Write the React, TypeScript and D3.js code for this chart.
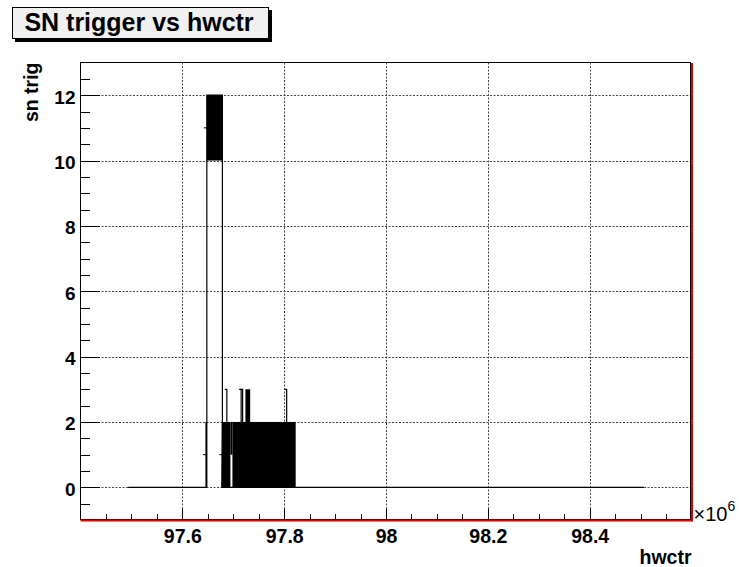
import React, { useEffect, useRef } from "react";
import * as d3 from "d3";

// hwctr in units of 10^6, sn trig counts
const traceHwctr = [97.4935, 97.6465, 97.6465, 97.6472, 97.6481, 97.6481, 97.6787, 97.6787, 97.6775, 97.8226, 97.8226, 98.5065];
const traceSnTrig = [0, 0, 2, 0, 0, 12, 12, 2, 0, 0, 0, 0];

// regions where the trace swings so fast it shows as solid black
const bandStart = [97.6481, 97.6775, 97.6944, 97.6984, 97.7239];
const bandEnd = [97.6787, 97.6944, 97.6984, 97.8226, 97.7332];
const bandLow = [10, 0, 1, 0, 2];
const bandHigh = [12, 2, 2, 2, 3];

// single excursions up to 3
const spikeHwctr = [97.6874, 97.7155, 97.7184, 97.8049];
const spikeBase = 2;
const spikeTop = 3;

// short stubs left of the tall bar
const stubHwctr = [97.6481, 97.6465, 97.6787];
const stubSnTrig = [11, 1, 1];

const xDomain = [97.4, 98.6];
const yDomain = [-1, 13];
const xTicks = [97.6, 97.8, 98, 98.2, 98.4];
const xTickLabels = ["97.6", "97.8", "98", "98.2", "98.4"];
const yTicks = [0, 2, 4, 6, 8, 10, 12];
const yTickLabels = ["0", "2", "4", "6", "8", "10", "12"];

const title = "SN trigger vs hwctr";
const xTitle = "hwctr";
const yTitle = "sn trig";

const FONT = "'Liberation Sans', Arial, Helvetica, sans-serif";

const DrawChart = (element: any) => {
  const width = 739;
  const height = 567;
  const left = 80.5;
  const right = 690.5;
  const top = 62.5;
  const bottom = 520;

  d3.select(element).select("svg").remove();

  const svg = d3
    .select(element)
    .append("svg")
    .attr("width", width)
    .attr("height", height)
    .style("position", "absolute")
    .style("left", "0px")
    .style("top", "0px")
    .style("background", "#fff");

  const x = d3.scaleLinear().domain(xDomain).range([left, right + 1]);
  const y = d3.scaleLinear().domain(yDomain).range([bottom, top]);

  // grid
  const grid = svg.append("g").attr("stroke", "#444").attr("stroke-width", 1).attr("stroke-dasharray", "2,1.5");
  grid
    .selectAll("line.gx")
    .data(xTicks)
    .enter()
    .append("line")
    .attr("x1", (d: any) => Math.round(x(d)) + 0.5)
    .attr("x2", (d: any) => Math.round(x(d)) + 0.5)
    .attr("y1", top)
    .attr("y2", bottom);
  grid
    .selectAll("line.gy")
    .data(yTicks)
    .enter()
    .append("line")
    .attr("x1", left)
    .attr("x2", right)
    .attr("y1", (d: any) => Math.round(y(d)) + 0.5)
    .attr("y2", (d: any) => Math.round(y(d)) + 0.5);

  // minor ticks
  const xMinor = d3.range(97.45, 98.58, 0.05).map((v) => +v.toFixed(2));
  const yMinor = d3.range(-0.5, 12.6, 0.5);

  const xMinorAxis = d3.axisBottom(x).tickValues(xMinor).tickSize(-6).tickSizeOuter(0).tickFormat(() => "");
  svg.append("g").attr("transform", `translate(0,${bottom})`).call(xMinorAxis).call((g: any) => g.select(".domain").remove());

  const yMinorAxis = d3.axisLeft(y).tickValues(yMinor).tickSize(-9.5).tickSizeOuter(0).tickFormat(() => "");
  svg.append("g").attr("transform", `translate(${left},0)`).call(yMinorAxis).call((g: any) => g.select(".domain").remove());

  // major ticks + labels
  const xAxis = d3
    .axisBottom(x)
    .tickValues(xTicks)
    .tickSize(-11)
    .tickSizeOuter(0)
    .tickPadding(9)
    .tickFormat((d: any, i: number) => xTickLabels[i]);
  const gx = svg.append("g").attr("transform", `translate(0,${bottom})`).call(xAxis);
  gx.select(".domain").remove();
  gx.selectAll("text").attr("font-family", FONT).attr("font-size", 19.5).attr("font-weight", "bold").attr("fill", "#000");

  const yAxis = d3
    .axisLeft(y)
    .tickValues(yTicks)
    .tickSize(-19)
    .tickSizeOuter(0)
    .tickPadding(5)
    .tickFormat((d: any, i: number) => yTickLabels[i]);
  const gy = svg.append("g").attr("transform", `translate(${left},0)`).call(yAxis);
  gy.select(".domain").remove();
  gy.selectAll("text").attr("font-family", FONT).attr("font-size", 19).attr("font-weight", "bold").attr("fill", "#000").attr("dy", "0.42em");

  svg.selectAll(".tick line").attr("stroke", "#000").attr("shape-rendering", "crispEdges");

  // data
  const traceData = traceHwctr.map((h, i) => [h, traceSnTrig[i]] as [number, number]);
  const line = d3
    .line()
    .x((d: any) => x(d[0]))
    .y((d: any) => y(d[1]));

  const bands = bandStart.map((s, i) => ({ s, e: bandEnd[i], lo: bandLow[i], hi: bandHigh[i] }));
  svg
    .selectAll("rect.band")
    .data(bands)
    .enter()
    .append("rect")
    .attr("x", (d: any) => x(d.s))
    .attr("width", (d: any) => x(d.e) - x(d.s))
    .attr("y", (d: any) => y(d.hi))
    .attr("height", (d: any) => y(d.lo) - y(d.hi))
    .attr("fill", "#000");

  svg
    .append("path")
    .attr("d", line(traceData as any))
    .attr("fill", "none")
    .attr("stroke", "#000")
    .attr("stroke-width", 1.2);

  svg
    .selectAll("path.spike")
    .data(spikeHwctr)
    .enter()
    .append("path")
    .attr("d", (d: any) => `M${x(d) - 2},${y(spikeTop)}L${x(d)},${y(spikeTop)}L${x(d)},${y(spikeBase)}`)
    .attr("fill", "none")
    .attr("stroke", "#000")
    .attr("stroke-width", 1.2);

  svg
    .selectAll("line.stub")
    .data(stubHwctr)
    .enter()
    .append("line")
    .attr("x1", (d: any) => x(d) - 3)
    .attr("x2", (d: any) => x(d))
    .attr("y1", (d: any, i: number) => y(stubSnTrig[i]))
    .attr("y2", (d: any, i: number) => y(stubSnTrig[i]))
    .attr("stroke", "#000")
    .attr("stroke-width", 1);

  // frame
  svg
    .append("rect")
    .attr("x", left)
    .attr("y", top)
    .attr("width", right - left)
    .attr("height", bottom - top - 0.5)
    .attr("fill", "none")
    .attr("stroke", "#000")
    .attr("stroke-width", 1);
  svg.append("line").attr("x1", left).attr("x2", right + 2).attr("y1", bottom + 0.5).attr("y2", bottom + 0.5).attr("stroke", "#e00000").attr("stroke-width", 2);
  svg.append("line").attr("x1", right + 1.5).attr("x2", right + 1.5).attr("y1", top + 0.5).attr("y2", bottom + 1.5).attr("stroke", "#e00000").attr("stroke-width", 2);

  // x10^6
  const exp = svg
    .append("text")
    .attr("x", right + 3)
    .attr("y", bottom + 1)
    .attr("font-family", FONT)
    .attr("font-size", 20)
    .attr("fill", "#000");
  exp.append("tspan").text("\u00d710");
  exp.append("tspan").attr("dy", -10).attr("font-size", 14).text("6");

  // axis titles
  svg
    .append("text")
    .attr("x", right + 1)
    .attr("y", 564)
    .attr("text-anchor", "end")
    .attr("font-family", FONT)
    .attr("font-size", 19.5)
    .attr("font-weight", "bold")
    .text(xTitle);

  svg
    .append("text")
    .attr("transform", `translate(37.5,${top}) rotate(-90)`)
    .attr("text-anchor", "end")
    .attr("font-family", FONT)
    .attr("font-size", 19.5)
    .attr("font-weight", "bold")
    .text(yTitle);

  // title box with shadow
  svg.append("rect").attr("x", 15).attr("y", 10).attr("width", 257).attr("height", 32).attr("fill", "#000");
  svg
    .append("rect")
    .attr("x", 12.5)
    .attr("y", 7.5)
    .attr("width", 256)
    .attr("height", 31)
    .attr("fill", "#f0f0f0")
    .attr("stroke", "#000")
    .attr("stroke-width", 1);
  svg
    .append("text")
    .attr("x", 139)
    .attr("y", 30.5)
    .attr("text-anchor", "middle")
    .attr("font-family", FONT)
    .attr("font-size", 25)
    .attr("font-weight", "bold")
    .text(title);
};

export default function App() {
  const ref = useRef<HTMLDivElement>(null);
  useEffect(() => {
    DrawChart(ref.current);
  }, []);
  return <div ref={ref} />;
}
